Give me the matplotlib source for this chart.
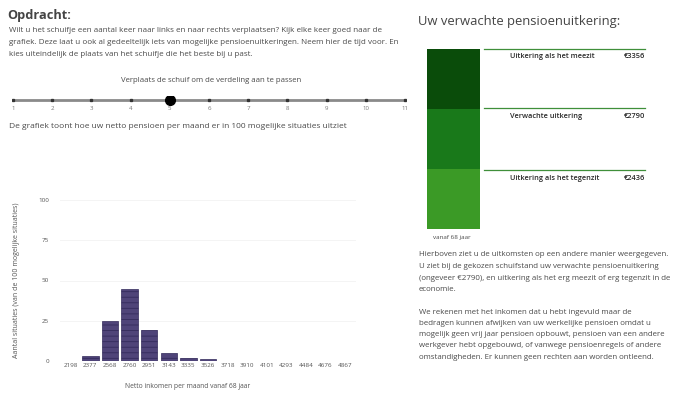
import matplotlib
matplotlib.use("Agg")
import matplotlib.pyplot as plt
import numpy as np

W, H = 693, 397
plt.rcParams['font.family'] = ['Open Sans', 'DejaVu Sans']
plt.rcParams['hatch.color'] = "#9088b8"
plt.rcParams['hatch.linewidth'] = 0.6

# ---------------- data ----------------
income_labels = ["2198", "2377", "2568", "2760", "2951", "3143", "3335", "3526",
                 "3718", "3910", "4101", "4293", "4484", "4676", "4867"]
situation_counts = [0, 3, 25, 45, 19, 5, 2, 1, 0, 0, 0, 0, 0, 0, 0]
y_ticks = [0, 25, 50, 75, 100]

slider_steps = list(range(1, 12))
slider_value = 5

outcome_labels = ["Uitkering als het tegenzit", "Verwachte uitkering", "Uitkering als het meezit"]
outcome_values = ["€2436", "€2790", "€3356"]
outcome_colors = ["#3b9a26", "#19791a", "#0a4c0a"]

grey = "#4a4a4a"

fig = plt.figure(figsize=(W / 100, H / 100), dpi=100)

def ftext(x, y, s, **kw):
    kw.setdefault("color", grey)
    kw.setdefault("va", "center")
    fig.text(x / W, 1 - y / H, s, **kw)

# ---------------- left texts ----------------
ftext(7, 16, "Opdracht:", fontsize=9.2, fontweight="bold", color="#444444")
left_par = [
    "Wilt u het schuifje een aantal keer naar links en naar rechts verplaatsen? Kijk elke keer goed naar de",
    "grafiek. Deze laat u ook al gedeeltelijk iets van mogelijke pensioenuitkeringen. Neem hier de tijd voor. En",
    "kies uiteindelijk de plaats van het schuifje die het beste bij u past.",
]
for i, line in enumerate(left_par):
    ftext(9, 31 + i * 11.5, line, fontsize=5.75)

ftext(211, 81, "Verplaats de schuif om de verdeling aan te passen", fontsize=5.6, ha="center")
ftext(9, 127, "De grafiek toont hoe uw netto pensioen per maand er in 100 mogelijke situaties uitziet",
      fontsize=6.0)

# ---------------- slider ----------------
sax = fig.add_axes([12 / W, 1 - 112 / H, (406 - 12) / W, 16 / H])
sax.set_xlim(slider_steps[0] - 0.02, slider_steps[-1] + 0.02)
sax.set_ylim(-1, 1)
sax.axis("off")
sax.plot([slider_steps[0], slider_steps[-1]], [0.5, 0.5], color="#8a8a8a", lw=2.0,
         solid_capstyle="butt")
sax.plot(slider_steps, [0.5] * len(slider_steps), "s", color="#333333", ms=1.4)
for s in slider_steps:
    sax.text(s, -0.6, str(s), fontsize=4.4, color="#777777", ha="center", va="center")
sax.plot([slider_value], [0.5], "o", color="black", ms=7)

# ---------------- histogram ----------------
ax = fig.add_axes([60 / W, 1 - 361 / H, (356 - 60) / W, (361 - 200) / H])
x = np.arange(len(income_labels))
ax.bar(x, situation_counts, width=0.84, color="#4f4479", edgecolor="#342b5c", lw=0.5,
       hatch="---", zorder=3)
ax.set_xlim(-0.55, len(income_labels) - 0.45)
ax.set_ylim(0, 100)
ax.set_yticks(y_ticks)
ax.set_yticklabels([str(t) for t in y_ticks])
ax.set_xticks(x)
ax.set_xticklabels(income_labels)
ax.tick_params(axis="both", length=0, labelsize=4.5, colors="#555555", pad=1.5)
ax.tick_params(axis="y", pad=8)
for sp in ax.spines.values():
    sp.set_visible(False)
ax.yaxis.grid(True, color="#f2f2f2", lw=0.6, zorder=0)
ax.set_ylabel("Aantal situaties (van de 100 mogelijke situaties)", fontsize=5.0,
              color="#555555", labelpad=13)
fig.text(188 / W, 1 - 386 / H, "Netto inkomen per maand vanaf 68 jaar", fontsize=4.9,
         color="#555555", ha="center", va="center")

# ---------------- right panel ----------------
ftext(418, 22, "Uw verwachte pensioenuitkering:", fontsize=9.4, color="#444444")

bax = fig.add_axes([427 / W, 1 - 229 / H, (480 - 427) / W, (229 - 49) / H])
bottoms = np.arange(len(outcome_labels))
bax.bar([0] * len(outcome_labels), [1] * len(outcome_labels), bottom=bottoms, width=1,
        color=outcome_colors, lw=0)
bax.set_xlim(-0.5, 0.5)
bax.set_ylim(0, len(outcome_labels))
bax.axis("off")

line_y = [170, 108, 49]
for i in range(len(outcome_labels)):
    y = line_y[i]
    fig.add_artist(plt.Line2D([484 / W, 645 / W], [1 - y / H, 1 - y / H],
                              color="#3f8f3a", lw=0.9))
    ftext(510, y + 8, outcome_labels[i], fontsize=5.3, color="#2a2a2a", fontweight="semibold")
    ftext(645, y + 8, outcome_values[i], fontsize=5.3, color="#2a2a2a", ha="right",
          fontweight="semibold")

ftext(452, 238, "vanaf 68 jaar", fontsize=4.5, ha="center")

right_p1 = [
    "Hierboven ziet u de uitkomsten op een andere manier weergegeven.",
    "U ziet bij de gekozen schuifstand uw verwachte pensioenuitkering",
    "(ongeveer €2790), en uitkering als het erg meezit of erg tegenzit in de",
    "economie.",
]
right_p2 = [
    "We rekenen met het inkomen dat u hebt ingevuld maar de",
    "bedragen kunnen afwijken van uw werkelijke pensioen omdat u",
    "mogelijk geen vrij jaar pensioen opbouwt, pensioen van een andere",
    "werkgever hebt opgebouwd, of vanwege pensioenregels of andere",
    "omstandigheden. Er kunnen geen rechten aan worden ontleend.",
]
for i, line in enumerate(right_p1):
    ftext(419, 255 + i * 11.5, line, fontsize=5.7)
for i, line in enumerate(right_p2):
    ftext(419, 312 + i * 11.3, line, fontsize=5.7)

fig.savefig("out.png", dpi=100)
